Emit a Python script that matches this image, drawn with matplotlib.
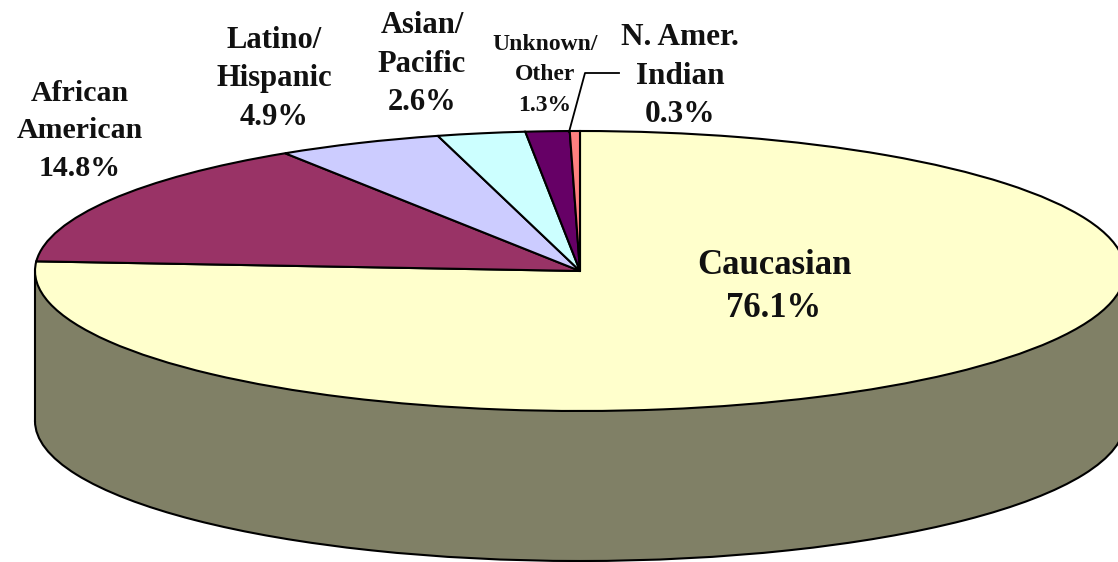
import matplotlib
matplotlib.use("Agg")
import matplotlib.pyplot as plt
from matplotlib.lines import Line2D
from matplotlib.patches import Rectangle

W, H = 1118, 562
categories = ["Caucasian", "African\nAmerican", "Latino/\nHispanic", "Asian/\nPacific",
              "Unknown/\nOther", "N. Amer.\nIndian"]
shares = [76.1, 14.8, 4.9, 2.6, 1.3, 0.3]

colors = ["#FFFFCC", "#993366", "#CCCCFF", "#CCFFFF", "#660066", "#FF8080"]
side_color = "#808066"
label_xy = [(774, 287), (80, 131), (274, 79), (422, 64), (545, 75), (680, 76)]
label_size = [25, 21.5, 22, 22, 17, 22.5]
label_spacing = [1.38, 1.52, 1.44, 1.44, 1.58, 1.44]

CX, CY, RX, RY, DEPTH = 580, 271, 545, 140, 150

plt.rcParams["font.family"] = ["Liberation Serif", "DejaVu Serif"]
fig = plt.figure(figsize=(W / 100, H / 100), dpi=100, facecolor="white")
ax = fig.add_axes([0, 0, 1, 1])

d = DEPTH / RY
edge = dict(edgecolor="black", linewidth=1.5)

# bottom of the cylinder
ax.pie([1], colors=[side_color], center=(0, -d), radius=1, startangle=0,
       wedgeprops=dict(edgecolor="black", linewidth=1.5, zorder=1))
ax.add_patch(Rectangle((-1, -d), 2, d, facecolor=side_color, edgecolor="none", zorder=2))
ax.plot([-1, -1], [-d, 0], color="black", lw=1.5, zorder=3)

# top face
wedges, _ = ax.pie(shares, colors=colors, startangle=90, counterclock=False,
                   center=(0, 0), radius=1, wedgeprops=edge)
for w in wedges:
    w.set_zorder(5)

ax.set_aspect("auto")
ax.set_xlim((0 - CX) / RX, (W - CX) / RX)
ax.set_ylim((CY - H) / RY, CY / RY)
ax.axis("off")

for name, val, (x, y), fs, ls in zip(categories, shares, label_xy, label_size, label_spacing):
    fig.text(x / W, 1 - y / H, f"{name}\n{val:.1f}%", ha="center", va="center",
             fontsize=fs, fontweight="bold", linespacing=ls, color="#111111", zorder=10)

# leader line for the smallest slice
fig.add_artist(Line2D([569 / W, 585 / W, 619 / W],
                      [1 - 132 / H, 1 - 73 / H, 1 - 73 / H],
                      color="black", lw=1.3, zorder=9))

fig.savefig("out.png", dpi=100)
